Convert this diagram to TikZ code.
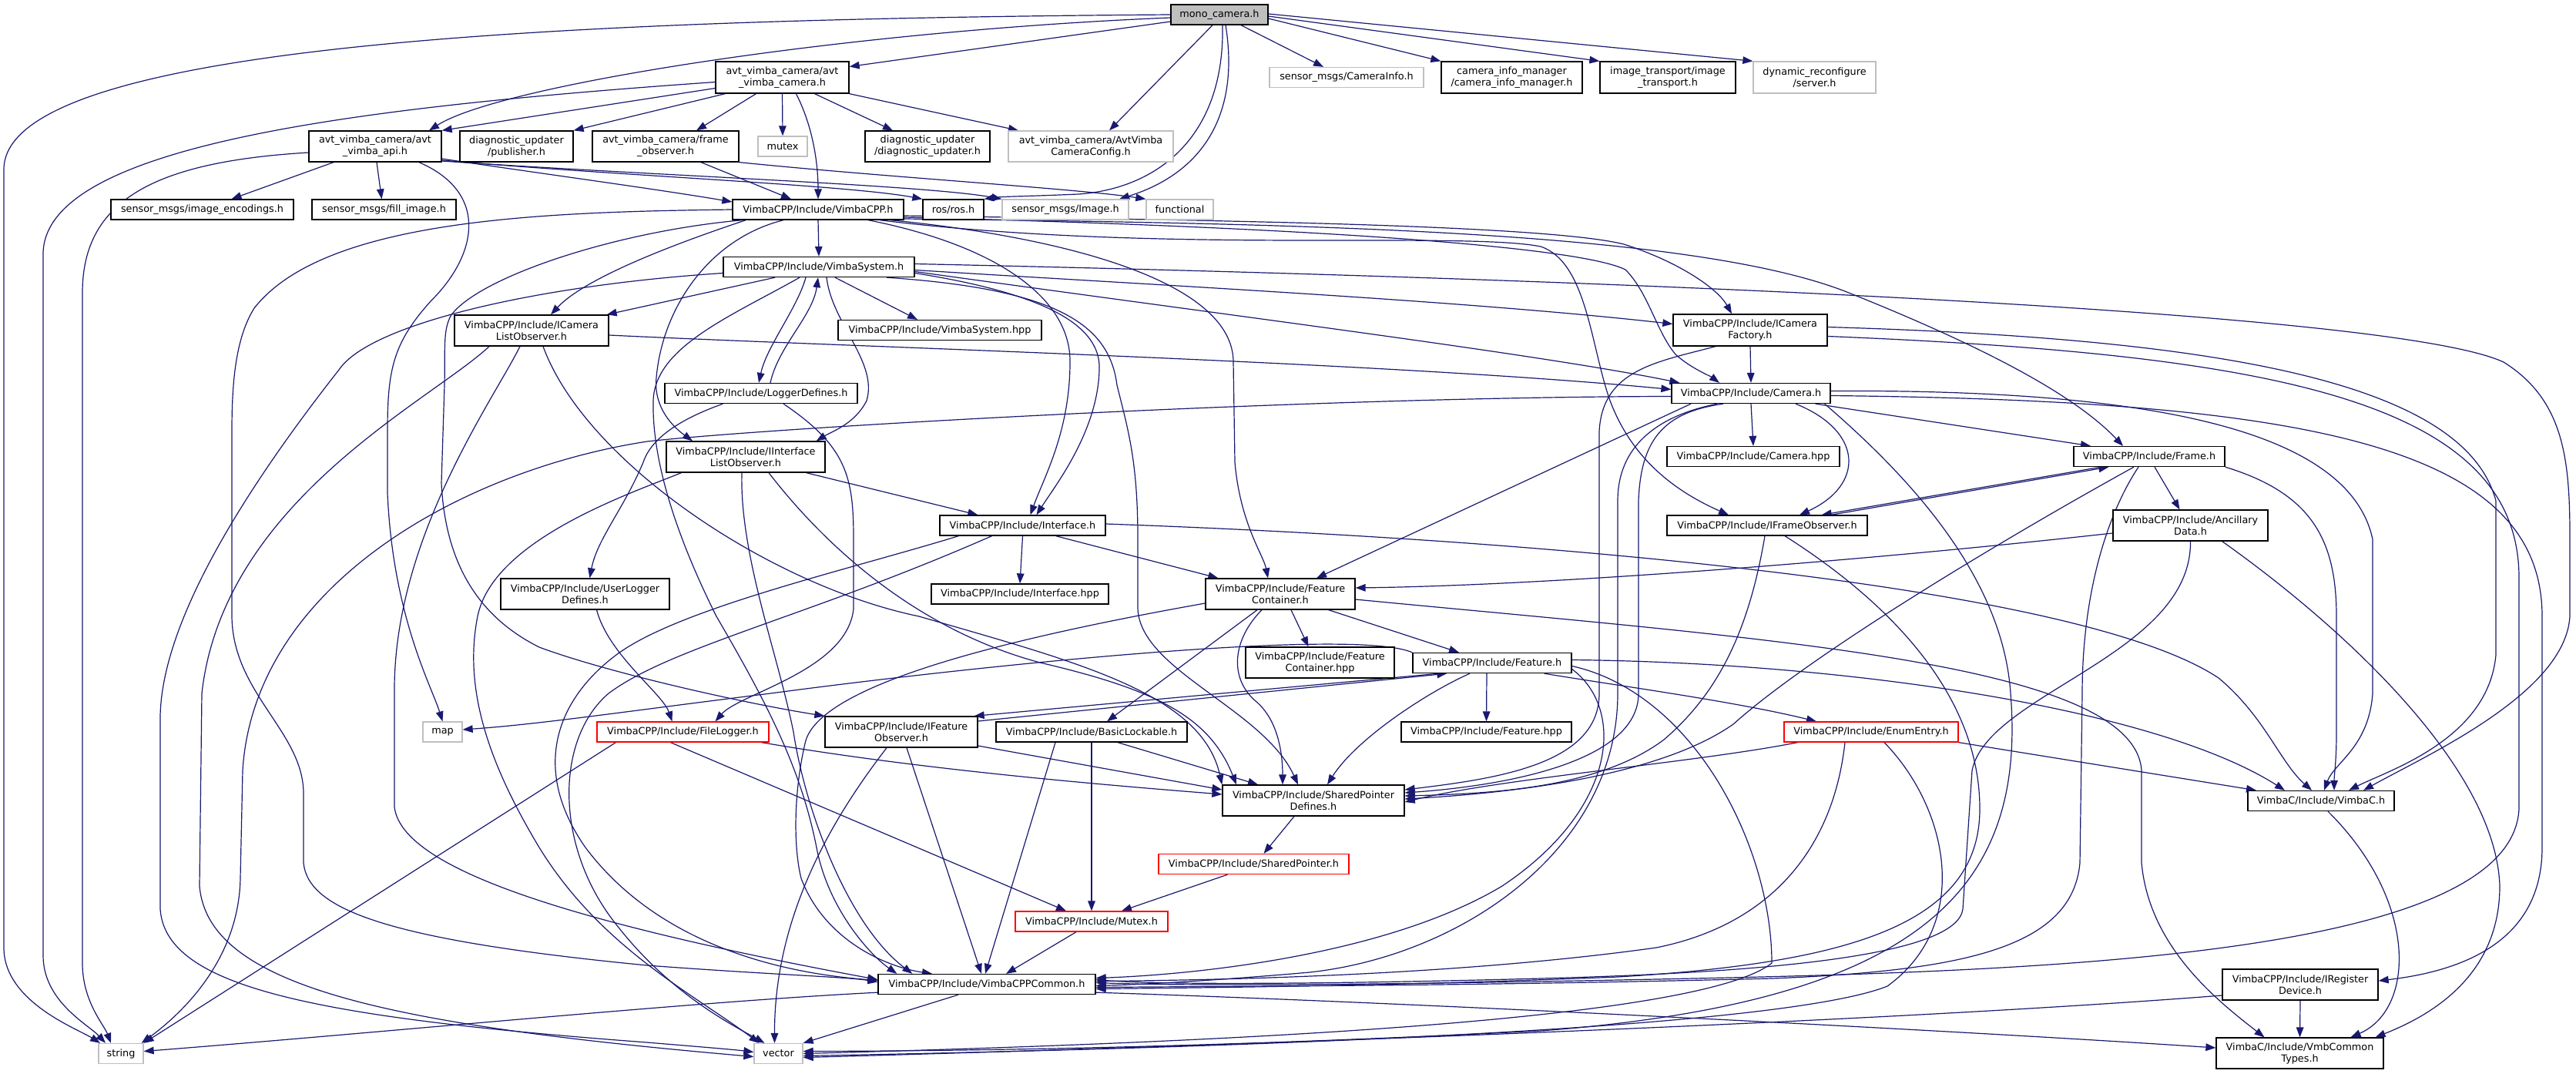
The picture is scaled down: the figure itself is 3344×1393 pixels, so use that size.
\documentclass[tikz,border=0pt]{standalone}
\usepackage{fontspec}
\setmainfont{DejaVu Sans}
\usetikzlibrary{arrows.meta,calc}
\definecolor{edgeblue}{HTML}{191970}
\definecolor{extgray}{HTML}{BFBFBF}
\definecolor{rootfill}{HTML}{BFBFBF}
\pgfdeclarelayer{bglayer}
\pgfdeclarelayer{edgelayer}
\pgfsetlayers{bglayer,edgelayer,main}
\begin{document}
\begin{tikzpicture}[x=0.5pt,y=-0.5pt,
  box/.style={draw=black, line width=0.65pt, fill=white, inner sep=0pt, align=center,
    font=\fontsize{6.4pt}{7.5pt}\selectfont, text=black},
  ext/.style={box, draw=extgray},
  redb/.style={box, draw=red},
  root/.style={box, fill=rootfill},
  e/.style={draw=edgeblue, line width=0.6pt, -{Triangle[length=6.5pt,width=4.8pt]}}]
\begin{pgfonlayer}{bglayer}
\fill[white] (0,0) rectangle (3344,1393);
\end{pgfonlayer}
\useasboundingbox (0,0) rectangle (3344,1393);

% ---------- nodes ----------
\node[root, minimum width=63pt, minimum height=13pt] (M) at (1583,19) {mono\_camera.h};
\node[box, minimum width=86.5pt, minimum height=20.5pt] (AC) at (1015.5,100.5) {avt\_vimba\_camera/avt\\\_vimba\_camera.h};
\node[box, minimum width=86pt, minimum height=20pt] (AA) at (487,190) {avt\_vimba\_camera/avt\\\_vimba\_api.h};
\node[box, minimum width=73.5pt, minimum height=20pt] (PUB) at (670.5,190) {diagnostic\_updater\\/publisher.h};
\node[box, minimum width=95pt, minimum height=20pt] (FO) at (864,190) {avt\_vimba\_camera/frame\\\_observer.h};
\node[ext, minimum width=32pt, minimum height=13pt] (MUT) at (1016,190) {mutex};
\node[box, minimum width=81pt, minimum height=20pt] (DU) at (1204,190) {diagnostic\_updater\\/diagnostic\_updater.h};
\node[ext, minimum width=107pt, minimum height=20pt] (CFG) at (1416,190) {avt\_vimba\_camera/AvtVimba\\CameraConfig.h};
\node[ext, minimum width=100pt, minimum height=13pt] (CI) at (1748,100.5) {sensor\_msgs/CameraInfo.h};
\node[box, minimum width=91.5pt, minimum height=20.5pt] (CIM) at (1962.5,100.5) {camera\_info\_manager\\/camera\_info\_manager.h};
\node[box, minimum width=88pt, minimum height=20.5pt] (IT) at (2165,100.5) {image\_transport/image\\\_transport.h};
\node[ext, minimum width=79.5pt, minimum height=20.5pt] (DR) at (2355.5,100.5) {dynamic\_reconfigure\\/server.h};
\node[box, minimum width=118.5pt, minimum height=13pt] (ENC) at (262.5,272) {sensor\_msgs/image\_encodings.h};
\node[box, minimum width=93.5pt, minimum height=13pt] (FILL) at (498.5,272) {sensor\_msgs/fill\_image.h};
\node[box, minimum width=111pt, minimum height=13pt] (VC) at (1062,272) {VimbaCPP/Include/VimbaCPP.h};
\node[box, minimum width=39.5pt, minimum height=13pt] (ROS) at (1237.5,272) {ros/ros.h};
\node[ext, minimum width=82pt, minimum height=13pt] (IMG) at (1383,272) {sensor\_msgs/Image.h};
\node[ext, minimum width=43.5pt, minimum height=13pt] (FUN) at (1531.5,272) {functional};
\node[box, minimum width=124pt, minimum height=13pt] (VS) at (1063,346.5) {VimbaCPP/Include/VimbaSystem.h};
\node[box, minimum width=132pt, minimum height=13pt] (VSH) at (1220,428.5) {VimbaCPP/Include/VimbaSystem.hpp};
\node[box, minimum width=100pt, minimum height=20pt] (ICLO) at (690,429) {VimbaCPP/Include/ICamera\\ListObserver.h};
\node[box, minimum width=100pt, minimum height=20.5pt] (ICF) at (2272,428.5) {VimbaCPP/Include/ICamera\\Factory.h};
\node[box, minimum width=125pt, minimum height=13pt] (LD) at (988,510.5) {VimbaCPP/Include/LoggerDefines.h};
\node[box, minimum width=103pt, minimum height=13pt] (CAM) at (2273,510.5) {VimbaCPP/Include/Camera.h};
\node[box, minimum width=103pt, minimum height=20pt] (IILO) at (968,593) {VimbaCPP/Include/IInterface\\ListObserver.h};
\node[box, minimum width=112pt, minimum height=13pt] (CAMH) at (2276,592.5) {VimbaCPP/Include/Camera.hpp};
\node[box, minimum width=98pt, minimum height=13pt] (FR) at (2790,592.5) {VimbaCPP/Include/Frame.h};
\node[box, minimum width=107.5pt, minimum height=13pt] (INT) at (1327.5,682) {VimbaCPP/Include/Interface.h};
\node[box, minimum width=130pt, minimum height=13pt] (IFO) at (2294,682) {VimbaCPP/Include/IFrameObserver.h};
\node[box, minimum width=100.5pt, minimum height=20pt] (ANC) at (2843.5,682) {VimbaCPP/Include/Ancillary\\Data.h};
\node[box, minimum width=109.5pt, minimum height=20pt] (ULD) at (759.5,771) {VimbaCPP/Include/UserLogger\\Defines.h};
\node[box, minimum width=115pt, minimum height=13pt] (INTH) at (1324,771) {VimbaCPP/Include/Interface.hpp};
\node[box, minimum width=97pt, minimum height=20pt] (FC) at (1662,771) {VimbaCPP/Include/Feature\\Container.h};
\node[box, minimum width=96.5pt, minimum height=20pt] (FCH) at (1713.5,860) {VimbaCPP/Include/Feature\\Container.hpp};
\node[box, minimum width=103pt, minimum height=13pt] (FEAT) at (1937,860.5) {VimbaCPP/Include/Feature.h};
\node[ext, minimum width=25.5pt, minimum height=13pt] (MAP) at (574.5,950) {map};
\node[redb, minimum width=111.5pt, minimum height=13pt] (FL) at (886.5,950) {VimbaCPP/Include/FileLogger.h};
\node[box, minimum width=99pt, minimum height=20pt] (IFEO) at (1170,950) {VimbaCPP/Include/IFeature\\Observer.h};
\node[box, minimum width=124pt, minimum height=13pt] (BL) at (1417,950) {VimbaCPP/Include/BasicLockable.h};
\node[box, minimum width=110.5pt, minimum height=13pt] (FEATH) at (1929.5,950) {VimbaCPP/Include/Feature.hpp};
\node[redb, minimum width=113pt, minimum height=13pt] (EE) at (2429,950) {VimbaCPP/Include/EnumEntry.h};
\node[box, minimum width=118pt, minimum height=20pt] (SPD) at (1705,1039) {VimbaCPP/Include/SharedPointer\\Defines.h};
\node[box, minimum width=95pt, minimum height=13pt] (VCH) at (3013,1039.5) {VimbaC/Include/VimbaC.h};
\node[redb, minimum width=123.5pt, minimum height=13pt] (SP) at (1627.5,1121.5) {VimbaCPP/Include/SharedPointer.h};
\node[redb, minimum width=99pt, minimum height=13pt] (MTX) at (1417,1196) {VimbaCPP/Include/Mutex.h};
\node[box, minimum width=141pt, minimum height=13pt] (COM) at (1281,1277.5) {VimbaCPP/Include/VimbaCPPCommon.h};
\node[box, minimum width=101pt, minimum height=20pt] (IRD) at (2986,1278) {VimbaCPP/Include/IRegister\\Device.h};
\node[ext, minimum width=29pt, minimum height=13pt] (STR) at (157,1367.5) {string};
\node[ext, minimum width=31.5pt, minimum height=13pt] (VEC) at (1010.5,1367.5) {vector};
\node[box, minimum width=108.5pt, minimum height=20pt] (VMB) at (2985.5,1367) {VimbaC/Include/VmbCommon\\Types.h};

\begin{pgfonlayer}{edgelayer}
% ---------- mono_camera.h ----------
\draw[e] (M.west) .. controls (700,25) and (5,60) .. (5,220) -- (5,1230) .. controls (5,1300) and (100,1335) .. ($(STR.north)+(-27,0)$);
\draw[e] ($(M.west)+(0,4)$) .. controls (1100,40) and (650,110) .. ($(AA.north)+(70,0)$);
\draw[e] ($(M.west)+(0,9)$) -- ($(AC.east)+(0,-14)$);
\draw[e] ($(M.south)+(-9,0)$) -- ($(CFG.north)+(24,0)$);
\draw[e] ($(M.south)+(4,0)$) .. controls (1590,180) and (1500,245) .. (1400,252) .. controls (1330,255) and (1300,255) .. (ROS.north east);
\draw[e] ($(M.south)+(8,0)$) .. controls (1610,150) and (1560,225) .. ($(IMG.north)+(70,0)$);
\draw[e] ($(M.south)+(28,0)$) -- ($(CI.north)+(-30,0)$);
\draw[e] ($(M.east)+(0,5)$) -- (CIM.north west);
\draw[e] ($(M.east)+(0,2)$) -- (IT.north west);
\draw[e] ($(M.east)+(0,-1)$) -- (DR.north west);
% ---------- avt_vimba_camera.h ----------
\draw[e] ($(AC.west)+(0,6)$) .. controls (450,140) and (56,190) .. (56,330) -- (56,1240) .. controls (56,1300) and (115,1330) .. ($(STR.north)+(-20,0)$);
\draw[e] ($(AC.west)+(0,14)$) -- (AA.north east);
\draw[e] ($(AC.south west)+(13,0)$) -- (PUB.north east);
\draw[e] ($(AC.south)+(-34,0)$) -- ($(FO.north)+(40,0)$);
\draw[e] (AC.south) -- (MUT.north);
\draw[e] ($(AC.south)+(18,0)$) .. controls (1058,170) and (1062,220) .. (VC.north);
\draw[e] ($(AC.south)+(42,0)$) -- ($(DU.north)+(-45,0)$);
\draw[e] (AC.south east) -- ($(CFG.north)+(-94,0)$);
% ---------- avt_vimba_api.h ----------
\draw[e] ($(AA.west)+(0,8)$) .. controls (200,210) and (107,260) .. (107,380) -- (107,1250) .. controls (107,1300) and (135,1330) .. ($(STR.north)+(-13,0)$);
\draw[e] ($(AA.south)+(-54,0)$) -- ($(ENC.north)+(38,0)$);
\draw[e] ($(AA.south)+(2,0)$) -- ($(FILL.north)+(-3,0)$);
\draw[e] ($(AA.south)+(57,0)$) .. controls (635,250) and (620,330) .. (560,390) .. controls (510,445) and (503,480) .. (503,560) -- (503,640) .. controls (510,800) and (560,890) .. (MAP.north);
\draw[e] ($(AA.east)+(0,16)$) .. controls (700,225) and (850,245) .. ($(VC.west)+(0,-10)$);
\draw[e] ($(AA.east)+(0,18)$) .. controls (800,228) and (1100,240) .. (ROS.north west);
\draw[e] ($(AA.east)+(0,19)$) .. controls (850,228) and (1200,240) .. (IMG.north west);
% ---------- frame_observer.h ----------
\draw[e] ($(FO.south)+(46,0)$) -- ($(VC.north)+(-35,0)$);
\draw[e] (FO.south east) .. controls (1150,230) and (1400,245) .. (FUN.north west);
% ---------- VimbaCPP.h ----------
\draw[e] (VC.south) -- (VS.north);
\draw[e] ($(VC.south west)+(18,0)$) .. controls (880,315) and (760,360) .. ($(ICLO.north)+(25,0)$);
\draw[e] ($(VC.south west)+(14,0)$) .. controls (800,300) and (620,360) .. (585,410) .. controls (575,430) and (578,450) .. (577,500) -- (573,627) .. controls (578,730) and (620,800) .. (700,840) .. controls (780,870) and (950,910) .. (IFEO.north west);
\draw[e] ($(VC.south)+(-45,0)$) .. controls (920,310) and (860,400) .. (852,490) .. controls (848,530) and (875,555) .. ($(IILO.north)+(-69,0)$);
\draw[e] ($(VC.south)+(65,0)$) .. controls (1300,320) and (1390,390) .. (1389,470) .. controls (1389,560) and (1355,620) .. ($(INT.north)+(10,0)$);
\draw[e] ($(VC.south)+(94,0)$) .. controls (1400,310) and (1601,370) .. (1601,470) -- (1603,600) .. controls (1610,680) and (1640,720) .. ($(FC.north)+(-16,0)$);
\draw[e] ($(VC.east)+(0,8)$) .. controls (1500,285) and (2000,290) .. (2108,317) .. controls (2180,340) and (2230,375) .. ($(ICF.north)+(-24,0)$);
\draw[e] ($(VC.east)+(0,10)$) .. controls (1700,295) and (2050,320) .. (2110,350) .. controls (2140,380) and (2150,430) .. (2175,460) .. controls (2195,478) and (2220,488) .. ($(CAM.north)+(-41,0)$);
\draw[e] ($(VC.east)+(0,12)$) .. controls (1700,290) and (2200,300) .. (2400,380) .. controls (2600,460) and (2700,520) .. ($(FR.north)+(-34,0)$);
\draw[e] ($(VC.south)+(80,0)$) .. controls (1500,330) and (1900,300) .. (2000,320) .. controls (2060,340) and (2065,450) .. (2090,520) .. controls (2120,600) and (2180,640) .. ($(IFO.north)+(-50,0)$);
\draw[e] (VC.west) .. controls (700,275) and (420,285) .. (330,400) .. controls (305,440) and (301,500) .. (301,560) -- (301,800) .. controls (302,900) and (394,950) .. (394,1030) -- (394,1120) .. controls (400,1180) and (500,1220) .. (840,1253) .. controls (1000,1265) and (1100,1268) .. ($(COM.west)+(0,-3)$);
% ---------- VimbaSystem.h ----------
\draw[e] ($(VS.south)+(21,0)$) -- ($(VSH.north)+(-29,0)$);
\draw[e] ($(VS.south)+(-17,0)$) .. controls (1035,400) and (995,450) .. ($(LD.north)+(-3,0)$);
\draw[e] ($(VS.south)+(-57,0)$) -- ($(ICLO.north east)+(-3,0)$);
\draw[e] ($(VS.south)+(10,0)$) .. controls (1080,420) and (1140,470) .. (1125,520) .. controls (1110,550) and (1080,560) .. ($(IILO.north east)+(-12,0)$);
\draw[e] ($(VS.east)+(0,8)$) .. controls (1350,380) and (1430,420) .. (1427,480) .. controls (1425,560) and (1370,630) .. ($(INT.north)+(18,0)$);
\draw[e] ($(VS.east)+(0,4)$) .. controls (1500,370) and (1900,390) .. ($(ICF.west)+(0,-8)$);
\draw[e] ($(VS.east)+(0,6)$) .. controls (1600,410) and (2000,460) .. ($(CAM.north west)+(11,0)$);
\draw[e] ($(VS.east)+(0,-4)$) .. controls (2000,360) and (3100,400) .. (3250,470) .. controls (3330,520) and (3336,600) .. (3336,700) -- (3336,800) .. controls (3330,900) and (3150,980) .. ($(VCH.north)+(55,0)$);
\draw[e] ($(VS.south)+(88,0)$) .. controls (1370,375) and (1440,420) .. (1450,500) .. controls (1465,560) and (1477,600) .. (1477,700) -- (1477,790) .. controls (1480,870) and (1640,920) .. ($(SPD.north)+(-20,0)$);
\draw[e] ($(VS.south)+(-25,0)$) .. controls (950,410) and (850,450) .. (848,520) .. controls (846,600) and (880,700) .. (930,800) .. controls (1000,920) and (1040,1000) .. (1060,1100) .. controls (1075,1180) and (1130,1240) .. ($(COM.north west)+(25,0)$);
\draw[e] ($(VS.west)+(0,8)$) .. controls (700,370) and (480,420) .. (440,480) .. controls (330,620) and (210,800) .. (208,930) -- (208,1180) .. controls (215,1280) and (400,1320) .. (840,1353) .. controls (900,1358) and (950,1362) .. ($(VEC.west)+(0,-2)$);
% ---------- LoggerDefines.h ----------
\draw[e] ($(LD.north)+(12,0)$) .. controls (1010,450) and (1055,410) .. ($(VS.south)+(-1,0)$);
\draw[e] ($(LD.south west)+(76,0)$) .. controls (880,545) and (845,570) .. (835,600) .. controls (810,660) and (775,700) .. ($(ULD.north)+(6,0)$);
\draw[e] ($(LD.south)+(29,0)$) .. controls (1100,580) and (1108,620) .. (1108,700) -- (1108,790) .. controls (1100,870) and (960,900) .. ($(FL.north)+(42,0)$);
% ---------- UserLoggerDefines.h / FileLogger.h ----------
\draw[e] ($(ULD.south)+(15,0)$) .. controls (790,850) and (860,900) .. ($(FL.north)+(-14,0)$);
\draw[e] ($(FL.south west)+(25,0)$) -- (STR.north east);
\draw[e] ($(FL.south east)+(-10,0)$) .. controls (1200,1000) and (1450,1020) .. ($(SPD.west)+(0,-8)$);
\draw[e] ($(FL.south)+(-16,0)$) -- ($(MTX.north)+(-33,0)$);
% ---------- ICameraListObserver.h ----------
\draw[e] ($(ICLO.east)+(0,6)$) .. controls (1100,450) and (1800,470) .. ($(CAM.west)+(0,-5)$);
\draw[e] ($(ICLO.south)+(-55,0)$) .. controls (560,520) and (290,650) .. (262,900) -- (259,1150) .. controls (270,1280) and (500,1330) .. ($(VEC.west)+(0,4)$);
\draw[e] ($(ICLO.south)+(-15,0)$) .. controls (640,520) and (510,700) .. (512,900) -- (512,1047) .. controls (520,1120) and (700,1190) .. ($(COM.west)+(0,-6)$);
\draw[e] ($(ICLO.south)+(15,0)$) .. controls (760,600) and (1000,760) .. (1193,800) .. controls (1400,860) and (1560,900) .. (SPD.north west);
% ---------- IInterfaceListObserver.h ----------
\draw[e] ($(IILO.south east)+(-25,0)$) -- ($(INT.north west)+(50,0)$);
\draw[e] ($(IILO.south west)+(20,0)$) .. controls (820,640) and (640,700) .. (620,800) .. controls (600,900) and (640,1000) .. (700,1100) .. controls (780,1230) and (900,1290) .. ($(VEC.north)+(-25,0)$);
\draw[e] ($(IILO.south)+(-5,0)$) .. controls (960,720) and (1010,850) .. (1030,950) .. controls (1045,1050) and (1100,1200) .. ($(COM.north west)+(45,0)$);
\draw[e] ($(IILO.south)+(30,0)$) .. controls (1080,720) and (1200,820) .. (1350,860) .. controls (1500,895) and (1570,930) .. ($(SPD.north)+(-100,0)$);
% ---------- Interface.h ----------
\draw[e] (INT.south) -- (INTH.north);
\draw[e] ($(INT.south east)+(-65,0)$) -- ($(FC.north west)+(17,0)$);
\draw[e] ($(INT.east)+(0,-2)$) .. controls (2000,700) and (2700,760) .. (2880,880) .. controls (2940,930) and (2960,990) .. ($(VCH.north)+(-12,0)$);
\draw[e] ($(INT.south west)+(25,0)$) .. controls (1100,740) and (880,790) .. (800,850) .. controls (720,910) and (690,1000) .. (760,1100) .. controls (850,1220) and (1000,1262) .. ($(COM.west)+(0,-5)$);
\draw[e] ($(INT.south)+(-40,0)$) .. controls (1050,800) and (870,840) .. (790,900) .. controls (720,960) and (720,1100) .. (800,1200) .. controls (870,1290) and (950,1330) .. ($(VEC.north)+(-18,0)$);
% ---------- FeatureContainer.h ----------
\draw[e] ($(FC.west)+(0,12)$) .. controls (1300,830) and (1060,890) .. (1045,965) .. controls (1030,1030) and (1030,1100) .. (1040,1140) .. controls (1070,1220) and (1150,1255) .. ($(COM.north)+(-71,0)$);
\draw[e] ($(FC.south)+(-30,0)$) -- ($(BL.north)+(20,0)$);
\draw[e] ($(FC.south)+(-24,0)$) .. controls (1600,830) and (1595,880) .. (1630,910) .. controls (1660,935) and (1665,980) .. ($(SPD.north)+(-40,0)$);
\draw[e] ($(FC.south)+(14,0)$) -- ($(FCH.north)+(-15,0)$);
\draw[e] ($(FC.south east)+(-35,0)$) -- ($(FEAT.north)+(-43,0)$);
\draw[e] ($(FC.east)+(0,7)$) .. controls (2300,830) and (2770,860) .. (2780,1000) -- (2780,1120) .. controls (2790,1230) and (2880,1300) .. ($(VMB.north)+(-46,0)$);
% ---------- Feature.h ----------
\draw[e] ($(FEAT.south)+(-7,0)$) -- (FEATH.north);
\draw[e] ($(FEAT.south west)+(35,0)$) -- ($(IFEO.north east)+(-5,0)$);
\draw[e] (FEAT.north west) .. controls (1760,815) and (1300,860) .. (1000,900) .. controls (800,925) and (700,940) .. ($(MAP.east)+(0,-3)$);
\draw[e] ($(FEAT.south)+(-29,0)$) .. controls (1850,900) and (1760,960) .. ($(SPD.north)+(18,0)$);
\draw[e] ($(FEAT.south east)+(-36,0)$) .. controls (2100,890) and (2250,910) .. ($(EE.north)+(-71,0)$);
\draw[e] ($(FEAT.east)+(0,-4)$) .. controls (2400,860) and (2800,920) .. ($(VCH.north)+(-47,0)$);
\draw[e] ($(FEAT.east)+(0,8)$) .. controls (2110,920) and (2100,1050) .. (1950,1150) .. controls (1800,1240) and (1550,1265) .. ($(COM.east)+(0,-8)$);
\draw[e] ($(FEAT.east)+(0,4)$) .. controls (2200,900) and (2300,1100) .. (2300,1250) .. controls (2200,1330) and (1500,1355) .. (VEC.east);
% ---------- IFeatureObserver.h ----------
\draw[e] ($(IFEO.east)+(0,-14)$) -- ($(FEAT.south west)+(45,0)$);
\draw[e] ($(IFEO.south)+(-19,0)$) .. controls (1090,1050) and (1005,1180) .. ($(VEC.north)+(-5,0)$);
\draw[e] ($(IFEO.south)+(7,0)$) -- ($(COM.north)+(-7,0)$);
\draw[e] ($(IFEO.east)+(0,18)$) -- ($(SPD.west)+(0,-14)$);
% ---------- BasicLockable.h ----------
\draw[e] ($(BL.south)+(-47,0)$) -- ($(COM.north)+(-2,0)$);
\draw[e] (BL.south) -- (MTX.north);
\draw[e] ($(BL.south)+(34,0)$) -- ($(SPD.north)+(-72,0)$);
% ---------- EnumEntry.h ----------
\draw[e] ($(EE.south west)+(18,0)$) .. controls (2200,990) and (1950,1010) .. ($(SPD.east)+(0,2)$);
\draw[e] ($(EE.south)+(-34,0)$) .. controls (2380,1100) and (2300,1200) .. (2150,1230) .. controls (1900,1265) and (1600,1272) .. ($(COM.east)+(0,-4)$);
\draw[e] ($(EE.south)+(17,0)$) .. controls (2530,1050) and (2560,1200) .. (2450,1280) .. controls (2300,1340) and (1500,1362) .. ($(VEC.east)+(0,3)$);
\draw[e] (EE.south east) -- ($(VCH.north)+(-84,0)$);
% ---------- SharedPointer chain ----------
\draw[e] ($(SPD.south)+(-25,0)$) -- ($(SP.north)+(13,0)$);
\draw[e] ($(SP.south)+(-34,0)$) -- ($(MTX.north)+(39,0)$);
\draw[e] ($(MTX.south)+(-20,0)$) -- ($(COM.north)+(25,0)$);
% ---------- VimbaCPPCommon.h ----------
\draw[e] ($(COM.south west)+(0,-3)$) .. controls (900,1300) and (500,1340) .. ($(STR.east)+(0,-3)$);
\draw[e] ($(COM.south)+(-37,0)$) -- (VEC.north east);
\draw[e] ($(COM.south east)+(0,-3)$) .. controls (1800,1300) and (2500,1335) .. ($(VMB.west)+(0,-7)$);
% ---------- VimbaC.h / IRegisterDevice.h ----------
\draw[e] ($(VCH.south)+(9,0)$) .. controls (3140,1170) and (3135,1310) .. ($(VMB.north)+(66,0)$);
\draw[e] (IRD.south) -- (VMB.north);
\draw[e] ($(IRD.west)+(0,14)$) .. controls (2400,1330) and (1500,1360) .. ($(VEC.east)+(0,5)$);
% ---------- Camera.h ----------
\draw[e] (CAM.south) -- (CAMH.north);
\draw[e] ($(CAM.south)+(-78,0)$) -- ($(FC.north)+(47,0)$);
\draw[e] ($(CAM.south)+(58,0)$) .. controls (2420,560) and (2420,630) .. ($(IFO.north)+(42,0)$);
\draw[e] ($(CAM.south east)+(-20,0)$) -- ($(FR.north)+(-76,0)$);
\draw[e] ($(CAM.south)+(-36,0)$) .. controls (2160,535) and (2130,570) .. (2127,650) -- (2127,900) .. controls (2127,990) and (1950,1020) .. ($(SPD.east)+(0,-10)$);
\draw[e] ($(CAM.south)+(-44,0)$) .. controls (2150,540) and (2100,580) .. (2100,650) -- (2100,900) .. controls (2100,1100) and (1900,1240) .. (1700,1262) .. controls (1550,1275) and (1470,1278) .. ($(COM.east)+(0,2)$);
\draw[e] ($(CAM.east)+(0,-3)$) .. controls (2800,505) and (3050,560) .. (3080,700) -- (3080,900) .. controls (3075,970) and (3030,990) .. ($(VCH.north)+(4,0)$);
\draw[e] ($(CAM.east)+(0,3)$) .. controls (3000,520) and (3300,580) .. (3300,800) -- (3300,1100) .. controls (3300,1220) and (3200,1260) .. ($(IRD.east)+(0,-5)$);
\draw[e] ($(CAM.west)+(0,4)$) .. controls (1700,515) and (1000,555) .. (840,573) .. controls (600,610) and (330,760) .. (315,1000) -- (312,1140) .. controls (310,1250) and (230,1320) .. ($(STR.north east)+(-3,0)$);
\draw[e] ($(CAM.south east)+(-8,0)$) .. controls (2480,620) and (2600,750) .. (2610,900) .. controls (2630,1150) and (2500,1300) .. (2000,1338) .. controls (1600,1358) and (1300,1364) .. ($(VEC.east)+(0,-3)$);
% ---------- ICameraFactory.h ----------
\draw[e] (ICF.south) -- (CAM.north);
\draw[e] ($(ICF.south)+(-45,0)$) .. controls (2150,470) and (2080,480) .. (2076,560) -- (2076,900) .. controls (2076,990) and (1950,1010) .. ($(SPD.east)+(0,-14)$);
\draw[e] ($(ICF.east)+(0,-4)$) .. controls (2900,440) and (3200,500) .. (3240,650) -- (3240,850) .. controls (3230,960) and (3100,1000) .. ($(VCH.north)+(36,0)$);
\draw[e] ($(ICF.east)+(0,8)$) .. controls (2950,460) and (3270,520) .. (3270,750) -- (3270,1050) .. controls (3260,1250) and (2600,1262) .. (2100,1272) .. controls (1800,1278) and (1550,1280) .. ($(COM.east)+(0,-2)$);
% ---------- Frame.h ----------
\draw[e] ($(FR.south)+(7,0)$) -- ($(ANC.north)+(-14,0)$);
\draw[e] ($(FR.south west)+(36,0)$) -- ($(IFO.north east)+(-60,0)$);
\draw[e] (FR.south east) .. controls (3000,640) and (3033,700) .. (3033,800) -- (3033,950) .. controls (3033,990) and (3030,1005) .. ($(VCH.north)+(17,0)$);
\draw[e] ($(FR.south)+(-20,0)$) .. controls (2600,700) and (2350,850) .. (2250,940) .. controls (2150,1010) and (1950,1030) .. ($(SPD.east)+(0,-2)$);
\draw[e] ($(FR.south)+(-14,0)$) .. controls (2740,660) and (2703,760) .. (2703,900) -- (2700,1120) .. controls (2690,1230) and (2550,1260) .. (2300,1270) .. controls (1900,1280) and (1600,1280) .. ($(COM.east)+(0,4)$);
% ---------- IFrameObserver.h ----------
\draw[e] ($(IFO.north east)+(-48,0)$) -- ($(FR.south west)+(46,0)$);
\draw[e] ($(IFO.south)+(-3,0)$) .. controls (2270,820) and (2230,900) .. (2160,960) .. controls (2080,1020) and (1950,1030) .. ($(SPD.east)+(0,-6)$);
\draw[e] ($(IFO.south)+(23,0)$) .. controls (2450,780) and (2570,900) .. (2570,1050) .. controls (2570,1200) and (2400,1250) .. (2100,1268) .. controls (1800,1280) and (1550,1282) .. ($(COM.east)+(0,6)$);
% ---------- AncillaryData.h ----------
\draw[e] ($(ANC.west)+(0,10)$) .. controls (2400,730) and (2000,760) .. ($(FC.east)+(0,-8)$);
\draw[e] (ANC.south) .. controls (2845,850) and (2580,900) .. (2560,1000) -- (2548,1180) .. controls (2540,1240) and (2300,1262) .. (2000,1270) .. controls (1700,1278) and (1500,1278) .. ($(COM.east)+(0,-6)$);
\draw[e] ($(ANC.south east)+(-60,0)$) .. controls (3050,820) and (3240,1000) .. (3245,1150) .. controls (3245,1270) and (3150,1320) .. ($(VMB.north)+(98,0)$);
\end{pgfonlayer}
\end{tikzpicture}
\end{document}
